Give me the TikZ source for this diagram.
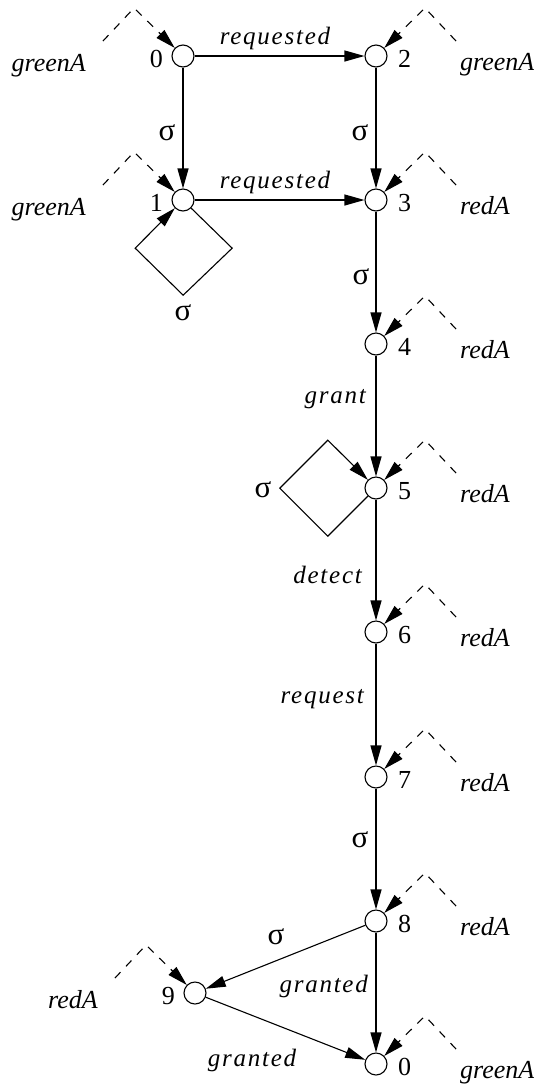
\documentclass[tikz,border=0pt]{standalone}
\usepackage{fontspec}
\setmainfont{Liberation Serif}
\newfontfamily\tmsfont{Liberation Serif}
\newfontfamily\tmsspaced{Liberation Serif}[LetterSpace=7]
\usetikzlibrary{arrows.meta,calc}
\begin{document}
\begin{tikzpicture}[x=1pt,y=-1pt,
  st/.style={circle,draw,line width=1.1pt,minimum size=22pt,inner sep=0pt},
  edge/.style={line width=1.1pt,-{Triangle[length=20pt,width=11pt]}},
  obs/.style={line width=1.1pt,dash pattern=on 8pt off 8pt,-{Triangle[length=20pt,width=11pt]}},
  num/.style={font=\tmsfont\fontsize{26}{26}\selectfont,inner sep=0pt},
  prop/.style={font=\tmsfont\fontsize{26}{26}\selectfont\itshape,inner sep=0pt},
  elab/.style={font=\tmsspaced\fontsize{25}{25}\selectfont\itshape,inner sep=0pt},
  sig/.style={font=\tmsfont\fontsize{31}{31}\selectfont,inner sep=0pt}]
\useasboundingbox (0,0) rectangle (534,1088);

% states
\node[st] (s0) at (183,56) {};
\node[st] (s2) at (376,56) {};
\node[st] (s1) at (183,200) {};
\node[st] (s3) at (376,200) {};
\node[st] (s4) at (376,344) {};
\node[st] (s5) at (376,488) {};
\node[st] (s6) at (376,632) {};
\node[st] (s7) at (376,777) {};
\node[st] (s8) at (376,921) {};
\node[st] (s9) at (195,993) {};
\node[st] (s10) at (376,1064) {};

% state numbers
\foreach \n/\s/\t in {s0/-1/0, s2/1/2, s1/-1/1, s3/1/3, s4/1/4, s5/1/5, s6/1/6, s7/1/7, s8/1/8, s9/-1/9, s10/1/0}{
  \ifnum\s>0
    \node[num,anchor=base west] (\n-num) at ($(\n)+(22,11)$) {\t};
  \else
    \node[num,anchor=base east] (\n-num) at ($(\n)+(-20,11)$) {\t};
  \fi
}

% observation labels with dashed arrows
\foreach \n/\s/\t in {s0/-1/greenA, s2/1/greenA, s1/-1/greenA, s3/1/redA, s4/1/redA, s5/1/redA, s6/1/redA, s7/1/redA, s8/1/redA, s9/-1/redA, s10/1/greenA}{
  \coordinate (\n-a) at ($(\n)+(\s*80,-15)$);
  \coordinate (\n-b) at ($(\n)+(\s*49,-48)$);
  \draw[obs] (\n-a) -- (\n-b) -- (\n);
  \ifnum\s>0
    \node[prop,anchor=base west] (\n-prop) at ($(\n)+(84,14)$) {\t};
  \else
    \node[prop,anchor=base east] (\n-prop) at ($(\n)+(-97,15)$) {\t};
  \fi
}

% transitions
\draw[edge] (s0) -- (s2);
\draw[edge] (s0) -- (s1);
\draw[edge] (s2) -- (s3);
\draw[edge] (s1) -- (s3);
\draw[edge] (s3) -- (s4);
\draw[edge] (s4) -- (s5);
\draw[edge] (s5) -- (s6);
\draw[edge] (s6) -- (s7);
\draw[edge] (s7) -- (s8);
\draw[edge] (s8) -- (s9);
\draw[edge] (s8) -- (s10);
\draw[edge] (s9) -- (s10);
\draw[edge] (s1.-45) -- ++(41,40) -- ++(-49,47) -- ++(-48,-47) -- (s1.-135);
\draw[edge] (s5.-135) -- ++(-40,40) -- ++(-48,-48) -- ++(48,-48) -- (s5.135);

% transition labels
\node[elab,anchor=base] (l02) at (275,44) {requested};
\node[elab,anchor=base] (l13) at (275,188) {requested};
\node[sig] (l01) at (167,133) {σ};
\node[sig] (l23) at (360,133) {σ};
\node[sig] (l34) at (361,277) {σ};
\node[sig] (l11) at (183,313) {σ};
\node[sig] (l55) at (263,490) {σ};
\node[sig] (l78) at (360,840) {σ};
\node[sig] (l89) at (276,937) {σ};
\node[elab,anchor=base east] (l45) at (366,403) {grant};
\node[elab,anchor=base east] (l56) at (362,583) {detect};
\node[elab,anchor=base east] (l67) at (364,703) {request};
\node[elab,anchor=base east] (l80) at (368,992) {granted};
\node[elab,anchor=base] (l90) at (252,1066) {granted};
\end{tikzpicture}
\end{document}
